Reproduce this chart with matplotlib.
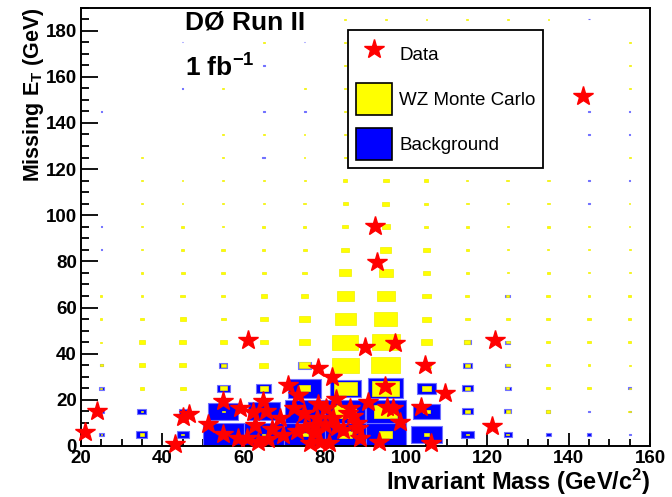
import matplotlib
matplotlib.use("Agg")
import matplotlib.pyplot as plt
from matplotlib.patches import Rectangle, Patch
from matplotlib.lines import Line2D
from matplotlib.ticker import MultipleLocator

plt.rcParams['font.family'] = ['Liberation Sans', 'DejaVu Sans']
plt.rcParams['mathtext.fontset'] = 'custom'
plt.rcParams['mathtext.rm'] = 'Liberation Sans:bold'
plt.rcParams['mathtext.it'] = 'Liberation Sans:bold'
plt.rcParams['mathtext.bf'] = 'Liberation Sans:bold'
plt.rcParams['mathtext.default'] = 'rm'

# Binning: invariant mass (x) and missing ET (y), 10 GeV bins
mass_centers = [25, 35, 45, 55, 65, 75, 85, 95, 105, 115, 125, 135, 145, 155]
met_centers = [5, 15, 25, 35, 45, 55, 65, 75, 85, 95, 105, 115, 125, 135, 145, 155, 165, 175, 185]
bin_w = 10.0
bin_h = 10.0

# Relative bin contents (box size, % of the largest bin); one row per MET bin
wz_mc = [
    [4, 10, 7, 5, 7, 15, 32, 32, 12, 7, 7, 0, 0, 0],
    [4, 7, 7, 7, 10, 12, 54, 57, 15, 12, 10, 10, 0, 7],
    [5, 12, 15, 17, 20, 27, 57, 66, 22, 12, 7, 10, 10, 5],
    [7, 17, 17, 12, 22, 27, 66, 71, 20, 12, 10, 10, 7, 5],
    [5, 17, 17, 17, 20, 27, 64, 69, 25, 15, 10, 10, 10, 7],
    [5, 12, 15, 12, 20, 25, 52, 57, 22, 12, 10, 10, 10, 7],
    [5, 7, 11, 10, 15, 17, 42, 44, 20, 10, 7, 10, 7, 7],
    [0, 7, 10, 10, 10, 12, 30, 34, 17, 7, 5, 7, 5, 5],
    [0, 5, 7, 10, 7, 10, 20, 27, 15, 7, 5, 5, 5, 5],
    [0, 5, 7, 4, 7, 7, 15, 20, 10, 7, 5, 7, 5, 3],
    [0, 3, 4, 6, 5, 7, 12, 17, 10, 7, 5, 7, 0, 3],
    [0, 5, 4, 4, 5, 5, 11, 15, 10, 5, 7, 7, 0, 0],
    [0, 5, 0, 4, 0, 4, 7, 0, 0, 0, 0, 0, 0, 5],
    [0, 0, 0, 4, 4, 4, 5, 0, 0, 0, 0, 0, 0, 0],
    [0, 0, 0, 0, 0, 0, 5, 0, 0, 0, 0, 0, 0, 0],
    [0, 0, 0, 4, 0, 5, 5, 0, 0, 0, 0, 0, 0, 5],
    [0, 0, 0, 0, 0, 0, 5, 0, 0, 0, 0, 0, 0, 5],
    [0, 0, 0, 0, 4, 0, 4, 0, 0, 0, 0, 0, 0, 5],
    [0, 0, 0, 0, 0, 0, 4, 4, 4, 4, 4, 4, 0, 0],
]

background = [
    [12, 27, 30, 100, 100, 100, 100, 100, 74, 32, 20, 12, 10, 5],
    [15, 22, 20, 74, 79, 98, 98, 98, 66, 27, 17, 10, 7, 5],
    [12, 0, 0, 32, 37, 81, 76, 86, 47, 27, 15, 0, 0, 7],
    [7, 0, 0, 20, 0, 30, 0, 0, 0, 22, 12, 0, 0, 0],
    [0, 0, 0, 0, 0, 0, 0, 0, 0, 17, 12, 0, 0, 0],
    [0, 0, 0, 0, 0, 0, 0, 0, 0, 0, 0, 0, 0, 0],
    [0, 0, 0, 0, 0, 0, 0, 0, 0, 0, 12, 0, 0, 0],
    [0, 0, 0, 0, 0, 0, 0, 0, 0, 0, 0, 0, 0, 0],
    [3, 0, 0, 0, 0, 0, 0, 0, 0, 0, 0, 0, 0, 0],
    [3, 0, 0, 0, 0, 0, 0, 0, 0, 0, 0, 0, 0, 0],
    [0, 0, 0, 0, 0, 0, 0, 0, 0, 0, 0, 0, 3, 0],
    [0, 0, 0, 0, 0, 0, 0, 0, 0, 0, 0, 0, 3, 3],
    [0, 0, 0, 0, 7, 0, 0, 0, 0, 0, 0, 0, 0, 0],
    [0, 0, 0, 0, 0, 0, 0, 0, 0, 0, 0, 0, 3, 3],
    [3, 0, 0, 0, 3, 5, 0, 0, 0, 0, 0, 0, 3, 3],
    [0, 0, 3, 0, 0, 0, 0, 0, 0, 0, 0, 0, 0, 0],
    [0, 0, 0, 0, 3, 0, 0, 0, 0, 0, 0, 0, 0, 0],
    [0, 0, 3, 0, 0, 3, 0, 0, 0, 0, 0, 0, 0, 0],
    [0, 0, 0, 0, 0, 0, 0, 0, 0, 0, 0, 0, 3, 0],
]

# Candidate events: invariant mass (GeV/c^2), missing ET (GeV)
data_mass = [21.0, 24.0, 43.1, 45.2, 46.6, 51.3, 54.9, 54.9, 59.1, 58.7,
             61.0, 60.8, 62.4, 64.7, 65.5, 62.8, 63.6, 67.1, 69.0, 69.6,
             71.0, 73.3, 72.5, 74.9, 73.1, 75.0, 78.4, 81.7, 78.2, 80.2,
             82.8, 78.0, 82.0, 77.6, 77.6, 78.8, 81.0, 80.0, 82.9, 84.5,
             85.6, 86.2, 87.0, 87.8, 88.2, 88.7, 89.9, 97.3, 92.3, 92.9,
             94.8, 90.5, 95.2, 96.7, 98.5, 93.4, 104.6, 103.6, 109.6, 106.1,
             121.1, 121.9, 143.4, 76.3, 66.0]
data_met = [6.2, 15.3, 1.0, 12.5, 14.0, 9.6, 19.4, 5.3, 16.3, 3.3,
            46.0, 3.5, 14.9, 19.4, 15.3, 9.1, 1.9, 7.5, 12.3, 4.8,
            26.5, 22.1, 16.5, 14.5, 6.5, 8.4, 33.7, 30.1, 18.0, 16.5,
            20.5, 12.0, 12.0, 9.1, 5.5, 1.9, 1.2, 9.1, 8.4, 6.9,
            14.2, 16.3, 12.9, 9.8, 7.7, 3.5, 43.1, 44.8, 95.4, 79.9,
            25.8, 19.0, 17.1, 16.3, 10.5, 1.9, 35.2, 17.0, 22.9, 1.3,
            8.7, 46.0, 151.5, 1.5, 3.0]

fig = plt.figure(figsize=(6.72, 4.97), dpi=100)
ax = fig.add_axes([81 / 672, 51 / 497, 569 / 672, 438.5 / 497])


def draw_boxes(grid, face, edge, lw, z):
    for j, yc in enumerate(met_centers):
        for i, xc in enumerate(mass_centers):
            v = grid[j][i]
            if v <= 0:
                continue
            f = v / 100.0
            w, h = f * bin_w, f * bin_h
            ax.add_patch(Rectangle((xc - w / 2, yc - h / 2), w, h,
                                   facecolor=face, edgecolor=edge,
                                   linewidth=lw, zorder=z))


draw_boxes(background, '#0000ff', '#7070ff', 0.8, 2)
draw_boxes(wz_mc, '#ffff00', '#f0f000', 0.5, 3)

ax.plot(data_mass, data_met, linestyle='none', marker='*', markersize=15,
        color='#ff0000', markeredgecolor='#ff0000', zorder=5, clip_on=False)

ax.set_xlim(20, 160)
ax.set_ylim(0, 190)
ax.xaxis.set_major_locator(MultipleLocator(20))
ax.xaxis.set_minor_locator(MultipleLocator(5))
ax.yaxis.set_major_locator(MultipleLocator(20))
ax.yaxis.set_minor_locator(MultipleLocator(5))
ax.tick_params(which='both', direction='in', top=False, right=False,
               labelsize=13.5, width=1.3, colors='black')
ax.tick_params(axis='x', which='major', length=9.5, pad=3)
ax.tick_params(axis='x', which='minor', length=5)
ax.tick_params(axis='y', which='major', length=12, pad=3)
ax.tick_params(axis='y', which='minor', length=6)
for lab in ax.get_xticklabels() + ax.get_yticklabels():
    lab.set_fontweight('bold')
for sp in ax.spines.values():
    sp.set_linewidth(1.4)

ax.set_xlabel('Invariant Mass (GeV/c$^{2}$)', loc='right', fontsize=17,
              fontweight='bold', labelpad=0)
ax.set_ylabel('Missing E$_{T}$ (GeV)', loc='top', fontsize=15.5,
              fontweight='bold', labelpad=0)

ax.text(0.183, 0.949, 'DØ Run II', transform=ax.transAxes, fontsize=19,
        fontweight='bold', va='baseline', ha='left')
ax.text(0.183, 0.8415, '1 fb$^{-1}$', transform=ax.transAxes, fontsize=19,
        fontweight='bold', va='baseline', ha='left')

handles = [
    Line2D([], [], linestyle='none', marker='*', markersize=15,
           color='#ff0000'),
    Patch(facecolor='#ffff00', edgecolor='black', linewidth=1.2),
    Patch(facecolor='#0000ff', edgecolor='black', linewidth=1.2),
]
leg = ax.legend(handles, ['Data', 'WZ Monte Carlo', 'Background'],
                loc='upper left', bbox_to_anchor=(348 / 672, 1 - 30 / 497),
                bbox_transform=fig.transFigure, fontsize=13.5,
                handlelength=1.92, handleheight=2.25, labelspacing=0.69,
                borderpad=0.43, handletextpad=0.37, borderaxespad=0,
                fancybox=False, framealpha=1, edgecolor='black')
leg.get_frame().set_linewidth(1.3)
leg.set_zorder(10)

fig.savefig('out.png', dpi=100)
